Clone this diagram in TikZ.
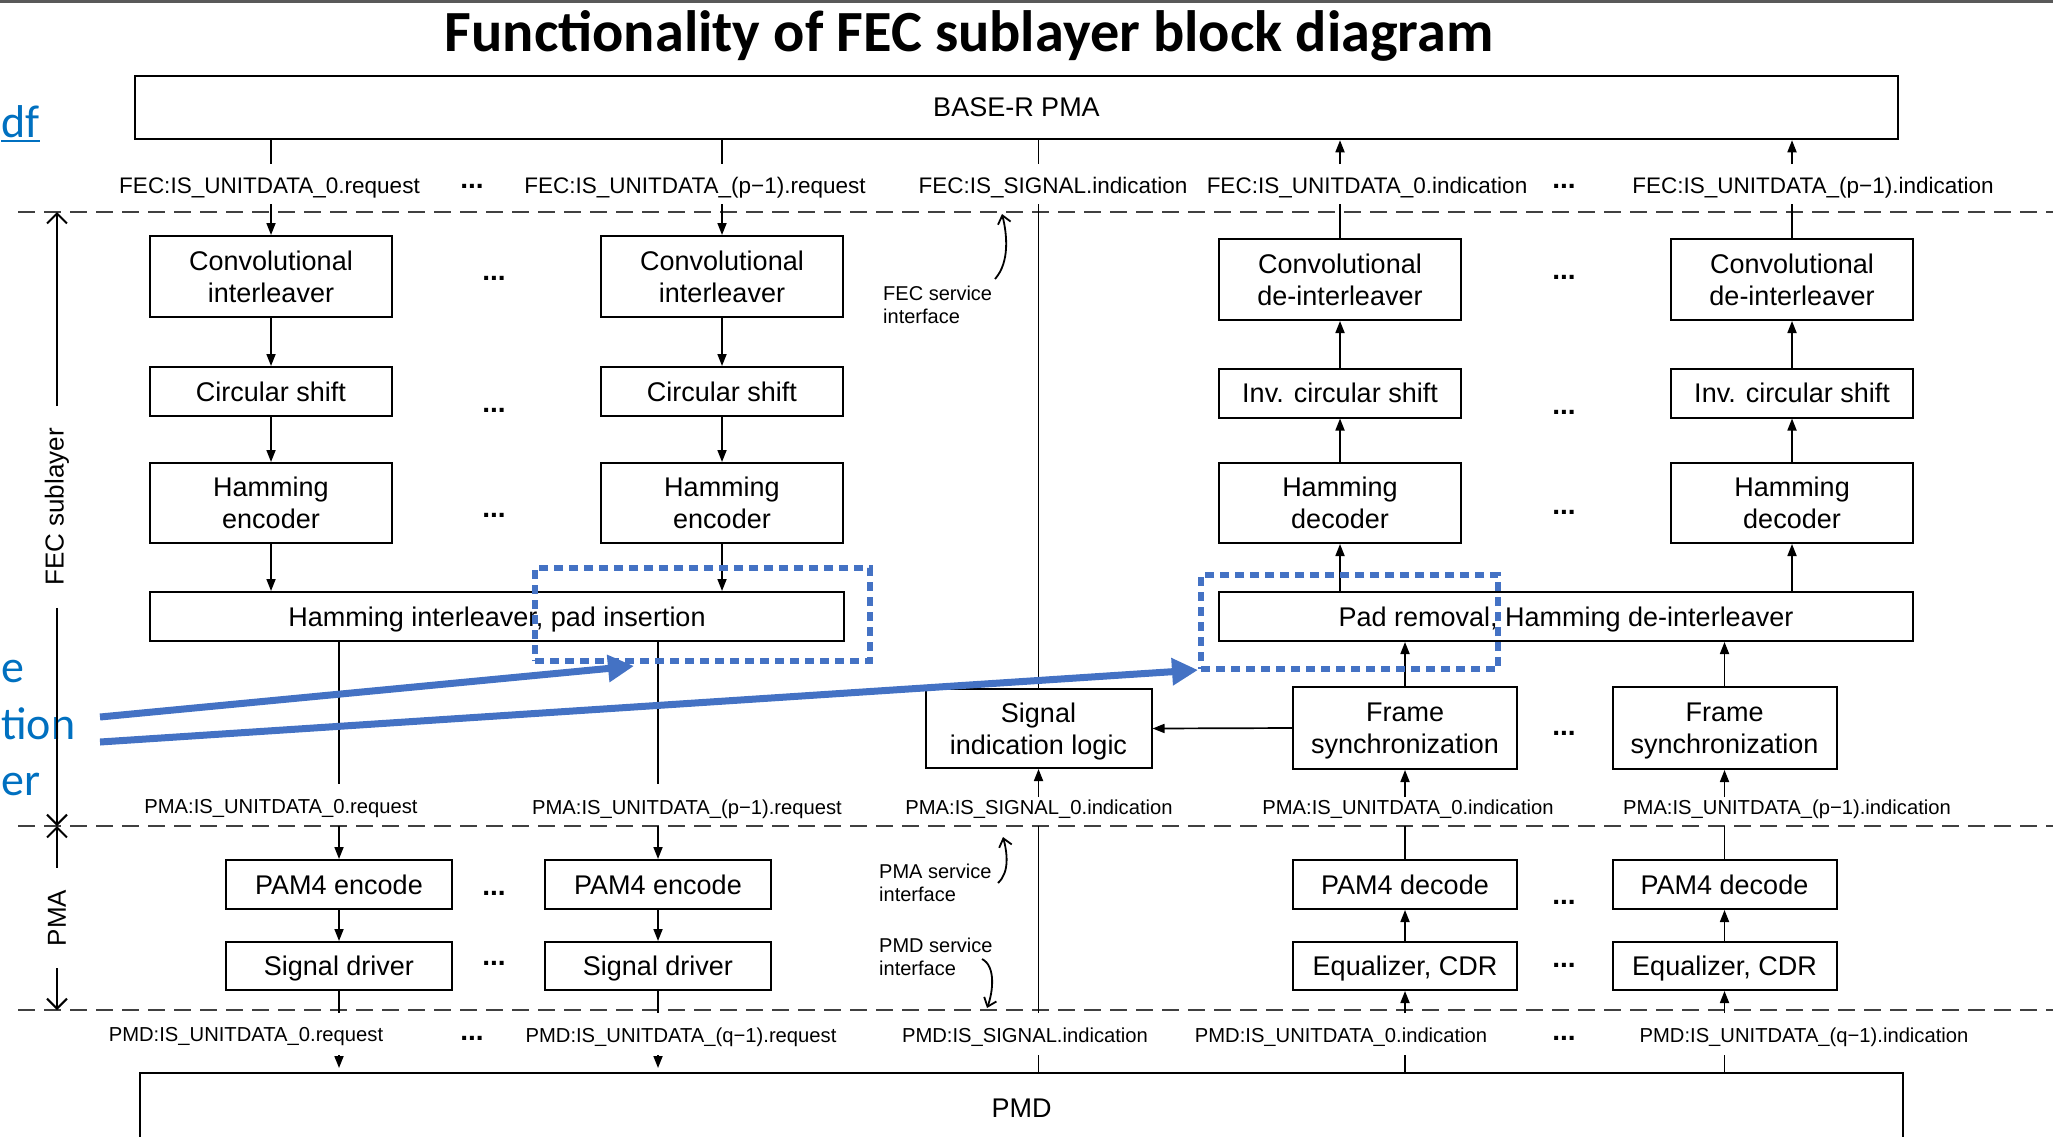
\documentclass[tikz,border=0pt]{standalone}
\usepackage{fontspec}
\setmainfont{Liberation Sans}
\newfontfamily\calfont{Carlito}
\usetikzlibrary{arrows.meta}
\definecolor{linkblue}{HTML}{0070C0}
\definecolor{hlblue}{HTML}{4472C4}
\definecolor{dashgray}{HTML}{404040}
\begin{document}
\begin{tikzpicture}[x=1pt,y=-1pt,
  box/.style={draw, line width=2pt, inner sep=0pt, align=center, text depth=0pt, font=\fontsize{27}{32}\selectfont},
  bigbox/.style={box, line width=2.5pt},
  lblA/.style={inner sep=0pt, font=\fontsize{22.5}{27}\selectfont},
  lblB/.style={inner sep=0pt, font=\fontsize{20.2}{24}\selectfont},
  ann/.style={inner sep=0pt, align=left, anchor=west, font=\fontsize{20}{22.5}\selectfont},
  dots/.style={inner sep=0pt, anchor=base, font=\bfseries\fontsize{28}{28}\selectfont},
  conn/.style={line width=1.7pt},
  arr/.style={line width=1.7pt, -{Triangle[length=12pt,width=9pt]}},
  barb/.style={line width=2pt, -{Straight Barb[length=10pt,width=20pt]}},
  sbarb/.style={line width=1.8pt, -{Straight Barb[length=8pt,width=13pt]}},
  layer/.style={line width=2.4pt, draw=dashgray, dash pattern=on 17pt off 9pt},
  hl/.style={draw=hlblue, line width=6pt, dash pattern=on 9pt off 6pt, inner sep=0pt},
  bluearr/.style={draw=hlblue, line width=7pt, -{Triangle[length=26pt,width=26pt]}},
  side/.style={inner sep=0pt, inner xsep=22pt, rotate=90, font=\fontsize{26}{26}\selectfont},
  bluetxt/.style={inner sep=0pt, anchor=base west, text=linkblue, font=\calfont\fontsize{46}{46}\selectfont}
]
\clip (0,0) rectangle (2053,1136);
\fill[white] (0,0) rectangle (2053,1136);
\fill[black!65] (0,0) rectangle (2053,2.5);

% title and slide text at the left edge
\node[anchor=base, inner sep=0pt, font=\calfont\bfseries\fontsize{58.3}{58}\selectfont] (title) at (969,51) {Functionality of FEC sublayer block diagram};
\node[bluetxt] (lnk) at (1,137) {df};
\draw[linkblue, line width=2.5pt] ([yshift=-4pt]lnk.base west) -- ([yshift=-4pt]lnk.base east);
\node[bluetxt] (w1) at (1,682) {e};
\node[bluetxt] (w2) at (1,739) {tion};
\node[bluetxt] (w3) at (1,795) {er};

% layer boundaries
\draw[layer] (18,212) -- (2053,212);
\draw[layer] (18,826) -- (2053,826);
\draw[layer] (18,1010) -- (2053,1010);

% big boxes
\node[bigbox, minimum width=1763pt, minimum height=63pt] (baseR) at (1016.5,107.5) {BASE-R PMA};
\node[bigbox, minimum width=1763pt, minimum height=70pt] (pmd) at (1021.5,1108) {PMD};

% FEC transmit columns
\node[box, minimum width=242pt, minimum height=81pt] (c1) at (271,276.5) {Convolutional\\interleaver};
\node[box, minimum width=242pt, minimum height=81pt] (c2) at (722,276.5) {Convolutional\\interleaver};
\node[box, minimum width=242pt, minimum height=49pt] (s1) at (271,391.5) {Circular shift};
\node[box, minimum width=242pt, minimum height=49pt] (s2) at (722,391.5) {Circular shift};
\node[box, minimum width=242pt, minimum height=80pt] (h1) at (271,503) {Hamming\\encoder};
\node[box, minimum width=242pt, minimum height=80pt] (h2) at (722,503) {Hamming\\encoder};
\node[box, minimum width=694pt, minimum height=49pt] (il) at (497,616.5) {Hamming interleaver, pad insertion};

% FEC receive columns
\node[box, minimum width=242pt, minimum height=81pt] (c3) at (1340,279.5) {Convolutional\\de-interleaver};
\node[box, minimum width=242pt, minimum height=81pt] (c4) at (1792,279.5) {Convolutional\\de-interleaver};
\node[box, minimum width=242pt, minimum height=49pt] (s3) at (1340,393) {Inv. circular shift};
\node[box, minimum width=242pt, minimum height=49pt] (s4) at (1792,393) {Inv. circular shift};
\node[box, minimum width=242pt, minimum height=80pt] (h3) at (1340,503) {Hamming\\decoder};
\node[box, minimum width=242pt, minimum height=80pt] (h4) at (1792,503) {Hamming\\decoder};
\node[box, minimum width=694pt, minimum height=49pt] (dl) at (1566,616.5) {Pad removal, Hamming de-interleaver};
\node[box, minimum width=226pt, minimum height=79pt] (sil) at (1038.5,728.5) {Signal\\indication logic};
\node[box, minimum width=224pt, minimum height=82pt] (fs1) at (1405,728) {Frame\\synchronization};
\node[box, minimum width=224pt, minimum height=82pt] (fs2) at (1724.5,728) {Frame\\synchronization};

% PMA
\node[box, minimum width=226pt, minimum height=49pt] (pe1) at (339,884.5) {PAM4 encode};
\node[box, minimum width=226pt, minimum height=49pt] (pe2) at (658,884.5) {PAM4 encode};
\node[box, minimum width=226pt, minimum height=48pt] (sd1) at (339,966) {Signal driver};
\node[box, minimum width=226pt, minimum height=48pt] (sd2) at (658,966) {Signal driver};
\node[box, minimum width=224pt, minimum height=49pt] (pd1) at (1405,884.5) {PAM4 decode};
\node[box, minimum width=224pt, minimum height=49pt] (pd2) at (1724.5,884.5) {PAM4 decode};
\node[box, minimum width=224pt, minimum height=48pt] (eq1) at (1405,966) {Equalizer, CDR};
\node[box, minimum width=224pt, minimum height=48pt] (eq2) at (1724.5,966) {Equalizer, CDR};

% service primitive labels
\node[lblA] (fl1) at (269.5,188) {FEC:IS\_UNITDATA\_0.request};
\node[lblA] (fl2) at (695,188) {FEC:IS\_UNITDATA\_(p−1).request};
\node[lblA] (fl3) at (1053,188) {FEC:IS\_SIGNAL.indication};
\node[lblA] (fl4) at (1367,188) {FEC:IS\_UNITDATA\_0.indication};
\node[lblA] (fl5) at (1813,188) {FEC:IS\_UNITDATA\_(p−1).indication};
\node[lblB] (pl1) at (281,809) {PMA:IS\_UNITDATA\_0.request};
\node[lblB] (pl2) at (687,809) {PMA:IS\_UNITDATA\_(p−1).request};
\node[lblB] (pl3) at (1039,809) {PMA:IS\_SIGNAL\_0.indication};
\node[lblB] (pl4) at (1408,809) {PMA:IS\_UNITDATA\_0.indication};
\node[lblB] (pl5) at (1787,809) {PMA:IS\_UNITDATA\_(p−1).indication};
\node[lblB] (ml1) at (246,1037) {PMD:IS\_UNITDATA\_0.request};
\node[lblB] (ml2) at (681,1037) {PMD:IS\_UNITDATA\_(q−1).request};
\node[lblB] (ml3) at (1025,1037) {PMD:IS\_SIGNAL.indication};
\node[lblB] (ml4) at (1341,1037) {PMD:IS\_UNITDATA\_0.indication};
\node[lblB] (ml5) at (1804,1037) {PMD:IS\_UNITDATA\_(q−1).indication};

% ellipses
\node[dots] (d1) at (472,188) {...};
\node[dots] (d2) at (1564,188) {...};
\node[dots] (d3) at (494,280) {...};
\node[dots] (d4) at (1564,279) {...};
\node[dots] (d5) at (494,412) {...};
\node[dots] (d6) at (1564,414) {...};
\node[dots] (d7) at (494,517) {...};
\node[dots] (d8) at (1564,514) {...};
\node[dots] (d9) at (1564,735) {...};
\node[dots] (d10) at (494,895) {...};
\node[dots] (d11) at (1564,904) {...};
\node[dots] (d12) at (494,965) {...};
\node[dots] (d13) at (1564,967) {...};
\node[dots] (d14) at (472,1040) {...};
\node[dots] (d15) at (1564,1040) {...};

% annotations
\node[ann] (fsi) at (883,305) {FEC service\\interface};
\node[ann] (pmasi) at (879,883) {PMA service\\interface};
\node[ann] (pmdsi) at (879,957) {PMD service\\interface};
\coordinate (fsiS) at (995,279);
\coordinate (fsiT) at (1002,214);
\coordinate (pmaS) at (998,883);
\coordinate (pmaT) at (1003,837);
\coordinate (pmdS) at (982,959);
\coordinate (pmdT) at (987,1008);
\draw[sbarb] (fsiS) .. controls (1010,262) and (1007,234) .. (fsiT);
\draw[sbarb] (pmaS) .. controls (1010,872) and (1007,852) .. (pmaT);
\draw[sbarb] (pmdS) .. controls (996,966) and (993,992) .. (pmdT);

% side layer markers
\node[side] (fecL) at (57,507) {FEC sublayer};
\node[side] (pmaL) at (57,918) {PMA};
\coordinate (fecT) at (57,212);
\coordinate (fecB) at (57,826);
\coordinate (pmaB) at (57,1010);
\draw[barb] (fecL.east) -- (fecT);
\draw[barb] (fecL.west) -- (fecB);
\draw[barb] (pmaL.east) -- (fecB);
\draw[barb] (pmaL.west) -- (pmaB);

% helper levels
\coordinate (ftop) at (0,164);
\coordinate (fbot) at (0,204);
\coordinate (pabove) at (0,784);
\coordinate (ptop) at (0,797);
\coordinate (pbot) at (0,826);
\coordinate (dthree) at (0,1013);
\coordinate (mtop) at (0,1055);
\coordinate (mtip) at (0,1068);

% FEC service interface connections
\draw[conn] (c1 |- baseR.south) -- (c1 |- ftop);
\draw[conn] (c2 |- baseR.south) -- (c2 |- ftop);
\draw[conn] (sil |- baseR.south) -- (sil |- ftop);
\draw[arr] (c3 |- ftop) -- (c3 |- baseR.south);
\draw[arr] (c4 |- ftop) -- (c4 |- baseR.south);
\draw[arr] (c1 |- fbot) -- (c1.north);
\draw[arr] (c2 |- fbot) -- (c2.north);
\draw[conn] (sil |- fbot) -- (sil.north);
\draw[conn] (c3.north) -- (c3 |- fbot);
\draw[conn] (c4.north) -- (c4 |- fbot);

% transmit chains
\draw[arr] (c1.south) -- (s1.north);
\draw[arr] (s1.south) -- (h1.north);
\draw[arr] (h1.south) -- (h1 |- il.north);
\draw[arr] (c2.south) -- (s2.north);
\draw[arr] (s2.south) -- (h2.north);
\draw[arr] (h2.south) -- (h2 |- il.north);
\draw[conn] (pe1 |- il.south) -- (pe1 |- pabove);
\draw[conn] (pe2 |- il.south) -- (pe2 |- pabove);
\draw[arr] (pe1 |- pbot) -- (pe1.north);
\draw[arr] (pe2 |- pbot) -- (pe2.north);
\draw[arr] (pe1.south) -- (sd1.north);
\draw[arr] (pe2.south) -- (sd2.north);
\draw[conn] (sd1.south) -- (sd1 |- dthree);
\draw[conn] (sd2.south) -- (sd2 |- dthree);
\draw[arr] (sd1 |- mtop) -- (sd1 |- mtip);
\draw[arr] (sd2 |- mtop) -- (sd2 |- mtip);

% receive chains
\draw[arr] (h3 |- dl.north) -- (h3.south);
\draw[arr] (h3.north) -- (s3.south);
\draw[arr] (s3.north) -- (c3.south);
\draw[arr] (h4 |- dl.north) -- (h4.south);
\draw[arr] (h4.north) -- (s4.south);
\draw[arr] (s4.north) -- (c4.south);
\draw[arr] (fs1.north) -- (fs1 |- dl.south);
\draw[arr] (fs2.north) -- (fs2 |- dl.south);
\draw[arr] (fs1.west) -- (sil.east);
\draw[arr] (sil |- ptop) -- (sil.south);
\draw[arr] (fs1 |- ptop) -- (fs1.south);
\draw[arr] (fs2 |- ptop) -- (fs2.south);
\draw[conn] (pd1.north) -- (pd1 |- pbot);
\draw[conn] (pd2.north) -- (pd2 |- pbot);
\draw[arr] (eq1.north) -- (pd1.south);
\draw[arr] (eq2.north) -- (pd2.south);
\draw[arr] (eq1 |- dthree) -- (eq1.south);
\draw[arr] (eq2 |- dthree) -- (eq2.south);
\draw[conn] (sil |- pbot) -- (sil |- dthree);
\draw[conn] (sil |- mtop) -- (sil |- pmd.north);
\draw[conn] (pd1 |- mtop) -- (pd1 |- pmd.north);
\draw[conn] (pd2 |- mtop) -- (pd2 |- pmd.north);

% highlights
\node[hl, minimum width=335pt, minimum height=93pt] (hl1) at (702.5,614.5) {};
\node[hl, minimum width=297pt, minimum height=94pt] (hl2) at (1349.5,622) {};
\coordinate (b1s) at (100,717);
\coordinate (b1t) at (634,666);
\coordinate (b2s) at (100,742);
\draw[bluearr] (b1s) -- (b1t);
\draw[bluearr] (b2s) -- ([yshift=2pt]hl2.south west);
\end{tikzpicture}
\end{document}
